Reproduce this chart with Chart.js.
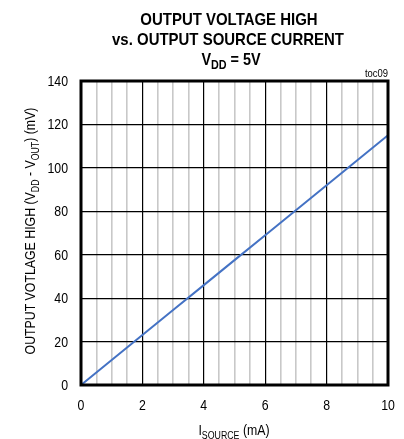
<!DOCTYPE html>
<html><head><meta charset="utf-8">
<script src="https://cdn.jsdelivr.net/npm/chart.js@4"></script>
<style>html,body{margin:0;padding:0;background:#fff}#wrap{width:404px;height:439px;position:relative}</style>
</head><body><div id="wrap"><canvas id="c" width="404" height="439"></canvas></div>
<script>
const FONT = '"Liberation Sans",Arial,sans-serif';
const titleLines = ["OUTPUT VOLTAGE HIGH", "vs. OUTPUT SOURCE CURRENT"];
const xValues = [0, 1, 2, 3, 4, 5, 6, 7, 8, 9, 10];
const yValues = [0, 11.5, 23, 34.5, 46, 57.5, 69, 80.5, 92, 103.5, 115];
const xTickLabels = [0, 2, 4, 6, 8, 10];
const yTickLabels = [0, 20, 40, 60, 80, 100, 120, 140];

// draw text segments (with optional subscripts), horizontally condensed by sx
function drawRich(ctx, parts, x, y, size, bold, align, sx) {
  const fontFor = p => (bold?'bold ':'') + (p[1]? Math.round(size*0.72):size) + 'px ' + FONT;
  const w = parts.map(p => { ctx.font = fontFor(p); return ctx.measureText(p[0]).width; });
  const total = w.reduce((a,b)=>a+b,0);
  ctx.save();
  ctx.translate(x, y);
  ctx.scale(sx, 1);
  let cx = align==='center' ? -total/2 : (align==='right' ? -total : 0);
  ctx.textAlign='left'; ctx.textBaseline='alphabetic';
  parts.forEach((p,i)=>{
    ctx.font = fontFor(p);
    ctx.fillText(p[0], cx, p[1]? size*0.28:0);
    cx += w[i];
  });
  ctx.restore();
}

const decor = {
  id: 'decor',
  afterDraw(chart) {
    const ctx = chart.ctx, a = chart.chartArea;
    const xs = chart.scales.x, ys = chart.scales.y;
    ctx.save();
    ctx.fillStyle = '#000';
    drawRich(ctx, [[titleLines[0]]], 229, 25, 17, true, 'center', 0.88);
    drawRich(ctx, [[titleLines[1]]], 228, 45, 17, true, 'center', 0.88);
    drawRich(ctx, [['V'],['DD',1],[' = 5V']], 231, 65, 16, true, 'center', 0.9);
    drawRich(ctx, [['toc09']], a.right, 77, 10.5, false, 'right', 0.9);
    xTickLabels.forEach(v => drawRich(ctx, [[String(v)]], xs.getPixelForValue(v), 410, 14, false, 'center', 0.88));
    yTickLabels.forEach(v => drawRich(ctx, [[String(v)]], 68, ys.getPixelForValue(v) + 5, 14, false, 'right', 0.88));
    drawRich(ctx, [['I'],['SOURCE',1],[' (mA)']], (a.left+a.right)/2 - 0.5, 435, 14, false, 'center', 0.88);
    ctx.translate(35, 231);
    ctx.rotate(-Math.PI/2);
    drawRich(ctx, [['OUTPUT VOTLAGE HIGH (V'],['DD',1],[' - V'],['OUT',1],[') (mV)']], 0, 0, 14, false, 'center', 0.88);
    ctx.restore();
    ctx.save();
    ctx.strokeStyle = '#000'; ctx.lineWidth = 3;
    ctx.strokeRect(a.left, a.top, a.right-a.left, a.bottom-a.top);
    ctx.restore();
  }
};

new Chart(document.getElementById('c'), {
  type: 'line',
  data: { datasets: [{ data: xValues.map((x,i)=>({x, y:yValues[i]})), borderColor: 'rgb(68,114,196)', borderWidth: 2, pointRadius: 0, tension: 0 }] },
  options: {
    responsive: false, animation: false,
    layout: { padding: { left: 0, top: 81, right: 16, bottom: 0 } },
    plugins: { legend: { display: false }, tooltip: { enabled: false }, title: { display: false } },
    scales: {
      x: { type: 'linear', min: 0, max: 10,
        afterFit(s){ s.height = 54; s.paddingLeft = 0; s.paddingRight = 0; },
        border: { display: false },
        grid: { drawTicks: false, lineWidth: c => (c.tick && c.tick.value % 2 === 0) ? 1.2 : 1.6,
          color: c => (c.tick && c.tick.value % 2 === 0) ? '#000' : '#c8c8c8' },
        ticks: { display: false, stepSize: 0.5, autoSkip: false } },
      y: { min: 0, max: 140,
        afterFit(s){ s.width = 81; s.paddingTop = 0; s.paddingBottom = 0; },
        border: { display: false },
        grid: { drawTicks: false, color: '#000', lineWidth: 1.2 },
        ticks: { display: false, stepSize: 20 } }
    }
  },
  plugins: [decor]
});
</script></body></html>
